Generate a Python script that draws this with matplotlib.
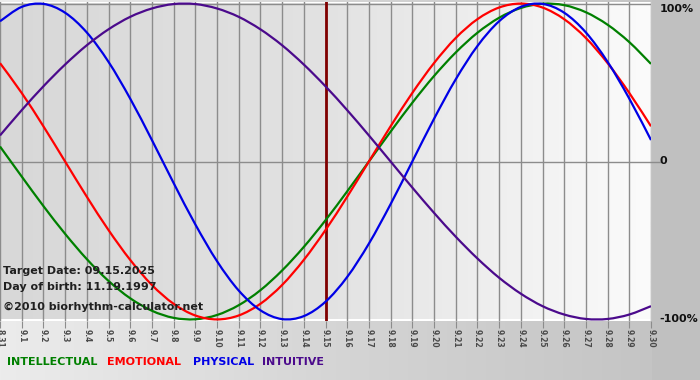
import matplotlib
matplotlib.use("Agg")
import matplotlib.pyplot as plt
import numpy as np
from matplotlib.colors import LinearSegmentedColormap
from matplotlib.path import Path
from matplotlib.patches import PathPatch

# days shown: 8.31 .. 9.30, target date 9.15
day_labels = ["8.31"] + ["9.%d" % d for d in range(1, 31)]
target_label = "9.15"

# values in percent, one per day
intellectual = [9.5, -9.5, -28.2, -45.8, -61.8, -75.6, -86.6, -94.5, -99.0, -99.9, -97.2,
                -91.0, -81.5, -69.0, -54.1, -37.2, -18.9, 0, 18.9, 37.2, 54.1, 69.0, 81.5,
                91.0, 97.2, 99.9, 99.0, 94.5, 86.6, 75.6, 61.8]
emotional = [62.3, 43.4, 22.3, 0, -22.3, -43.4, -62.3, -78.2, -90.1, -97.5, -100, -97.5,
             -90.1, -78.2, -62.3, -43.4, -22.3, 0, 22.3, 43.4, 62.3, 78.2, 90.1, 97.5, 100,
             97.5, 90.1, 78.2, 62.3, 43.4, 22.3]
physical = [88.8, 97.9, 99.8, 94.2, 81.7, 63.1, 39.8, 13.6, -13.6, -39.8, -63.1, -81.7,
            -94.2, -99.8, -97.9, -88.8, -73.1, -52.0, -27.0, 0, 27.0, 52.0, 73.1, 88.8,
            97.9, 99.8, 94.2, 81.7, 63.1, 39.8, 13.6]
intuitive = [16.5, 32.5, 47.6, 61.4, 73.6, 83.7, 91.6, 96.9, 99.7, 99.7, 96.9, 91.6, 83.7,
             73.6, 61.4, 47.6, 32.5, 16.5, 0, -16.5, -32.5, -47.6, -61.4, -73.6, -83.7,
             -91.6, -96.9, -99.7, -99.7, -96.9, -91.6]

series = [("INTELLECTUAL", intellectual, "#008000"),
          ("EMOTIONAL", emotional, "#ff0000"),
          ("PHYSICAL", physical, "#0000e6"),
          ("INTUITIVE", intuitive, "#4b0a8c")]


def smooth_path(xs, ys):
    # bezier curve through the data points (catmull-rom style handles)
    xs = np.asarray(xs, float)
    ys = np.asarray(ys, float)
    verts = [(xs[0], ys[0])]
    codes = [Path.MOVETO]
    n = len(xs)
    for i in range(n - 1):
        x0, y0 = (xs[i - 1], ys[i - 1]) if i > 0 else (xs[i], ys[i])
        x3, y3 = (xs[i + 2], ys[i + 2]) if i + 2 < n else (xs[i + 1], ys[i + 1])
        c1 = (xs[i] + (xs[i + 1] - x0) / 6, ys[i] + (ys[i + 1] - y0) / 6)
        c2 = (xs[i + 1] - (x3 - xs[i]) / 6, ys[i + 1] - (y3 - ys[i]) / 6)
        verts += [c1, c2, (xs[i + 1], ys[i + 1])]
        codes += [Path.CURVE4] * 3
    return Path(verts, codes)


fig = plt.figure(figsize=(7, 3.8), dpi=100)

# figure background: light on the left, darker grey to the right
bg = fig.add_axes([0, 0, 1, 1], zorder=0)
bg_cmap = LinearSegmentedColormap.from_list("bg", ["#ececec", "#d4d4d4", "#c2c2c2"])
bg.imshow(np.linspace(0, 1, 256)[None, :], aspect="auto", cmap=bg_cmap, extent=[0, 1, 0, 1])
bg.axis("off")
bg.axvspan(652 / 700, 1, color="#c0c0c0", lw=0)

ax = fig.add_axes([0, 59 / 380, 651 / 700, 319 / 380], zorder=1)
x = np.arange(len(day_labels))
t_idx = day_labels.index(target_label)

plot_cmap = LinearSegmentedColormap.from_list(
    "plot", [(0, "#d8d8d8"), (0.5, "#e2e2e2"), (1, "#fbfbfb")])
ax.imshow(np.linspace(0, 1, 256)[None, :], aspect="auto", cmap=plot_cmap,
          extent=[x[0], x[-1], -100, 100], zorder=0)

for xi in x:
    ax.axvline(xi, color="#8c8c8c", lw=1, zorder=1)
ax.axhline(0, color="#8c8c8c", lw=1, zorder=1)
ax.plot([x[-1], x[-1] + 0.4], [0, 0], color="#8c8c8c", lw=1, clip_on=False)
ax.axhline(100, color="#8c8c8c", lw=1, zorder=1)
ax.axvline(t_idx, color="#800000", lw=2, zorder=2)

for name, vals, col in series:
    ax.add_patch(PathPatch(smooth_path(x, vals), facecolor="none", edgecolor=col,
                           lw=1.6, zorder=3))

ax.set_xlim(x[0], x[-1])
ax.set_ylim(-101, 101)
ax.set_xticks(x)
ax.set_xticklabels(day_labels, rotation=270, fontsize=5.5, fontweight="bold", color="#4a4a4a")
ax.tick_params(axis="x", length=5, color="#8c8c8c", pad=1)
ax.set_yticks([])
for s in ax.spines.values():
    s.set_visible(False)

# right side percent labels
for val, lab in [(100, "100%"), (0, "0"), (-100, "-100%")]:
    ax.text(x[-1] + 0.4, val, lab, fontsize=8, fontweight="bold", color="#101010",
            ha="left", va="top" if val == 100 else "center", clip_on=False)

info = ["Target Date: 09.15.2025", "Day of birth: 11.19.1997"]
fig.text(3 / 700, 1 - 271 / 380, info[0], fontsize=8, fontweight="bold", color="#202020", va="center", zorder=5)
fig.text(3 / 700, 1 - 287 / 380, info[1], fontsize=8, fontweight="bold", color="#202020", va="center", zorder=5)
fig.text(3 / 700, 1 - 307 / 380, "\u00a92010 biorhythm-calculator.net", fontsize=8,
         fontweight="bold", color="#202020", va="center", zorder=5)

# legend row
xpos = [7, 107, 193, 262]
for (name, vals, col), px in zip(series, xpos):
    fig.text(px / 700, 1 - 362 / 380, name, fontsize=8, fontweight="bold", color=col, va="center", zorder=5)

fig.savefig("out.png", dpi=100)
